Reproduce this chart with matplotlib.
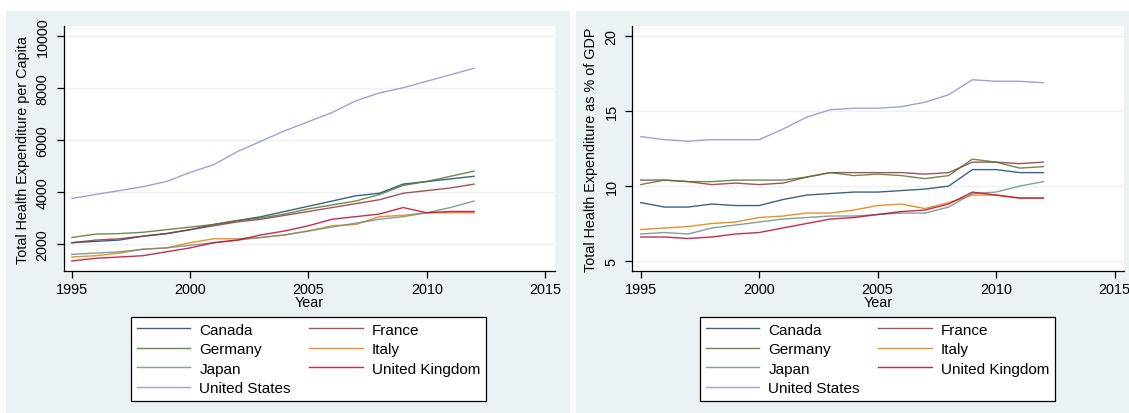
import matplotlib
matplotlib.use("Agg")
import matplotlib.pyplot as plt
from matplotlib.patches import Rectangle

plt.rcParams['font.family'] = ['Liberation Sans', 'DejaVu Sans']

years = list(range(1995, 2013))
countries = ['Canada', 'France', 'Germany', 'Italy', 'Japan', 'United Kingdom', 'United States']
colors = ['#1a476f', '#90353b', '#55752f', '#e37e00', '#6e8e84', '#c10534', '#938dd2']

# per capita spending
pc_canada = [2050, 2100, 2150, 2300, 2400, 2550, 2750, 2900, 3050, 3250, 3450, 3650, 3850, 3950, 4300, 4400, 4500, 4600]
pc_france = [2050, 2150, 2200, 2300, 2400, 2550, 2700, 2850, 2950, 3100, 3250, 3400, 3550, 3700, 3950, 4050, 4150, 4300]
pc_germany = [2250, 2380, 2400, 2450, 2550, 2650, 2750, 2900, 3000, 3150, 3350, 3500, 3650, 3900, 4250, 4400, 4600, 4800]
pc_italy = [1500, 1550, 1650, 1800, 1850, 2050, 2200, 2200, 2250, 2350, 2500, 2700, 2750, 3050, 3100, 3200, 3200, 3200]
pc_japan = [1600, 1650, 1700, 1800, 1850, 1950, 2050, 2150, 2250, 2350, 2500, 2650, 2800, 2950, 3050, 3200, 3400, 3650]
pc_uk = [1350, 1450, 1500, 1550, 1700, 1850, 2050, 2150, 2350, 2500, 2700, 2950, 3050, 3150, 3400, 3200, 3250, 3250]
pc_us = [3750, 3900, 4050, 4200, 4400, 4750, 5050, 5550, 5950, 6350, 6700, 7050, 7500, 7800, 8000, 8250, 8500, 8750]

# share of GDP
gdp_canada = [8.9, 8.6, 8.6, 8.8, 8.7, 8.7, 9.1, 9.4, 9.5, 9.6, 9.6, 9.7, 9.8, 10.0, 11.1, 11.1, 10.9, 10.9]
gdp_france = [10.4, 10.4, 10.3, 10.1, 10.2, 10.1, 10.2, 10.6, 10.9, 10.9, 10.9, 10.9, 10.8, 10.9, 11.6, 11.6, 11.5, 11.6]
gdp_germany = [10.1, 10.4, 10.3, 10.3, 10.4, 10.4, 10.4, 10.6, 10.9, 10.7, 10.8, 10.7, 10.5, 10.7, 11.8, 11.6, 11.2, 11.3]
gdp_italy = [7.1, 7.2, 7.3, 7.5, 7.6, 7.9, 8.0, 8.2, 8.2, 8.4, 8.7, 8.8, 8.5, 8.9, 9.4, 9.4, 9.2, 9.2]
gdp_japan = [6.8, 6.9, 6.8, 7.2, 7.4, 7.6, 7.8, 7.9, 8.0, 8.0, 8.1, 8.2, 8.2, 8.6, 9.5, 9.6, 10.0, 10.3]
gdp_uk = [6.6, 6.6, 6.5, 6.6, 6.8, 6.9, 7.2, 7.5, 7.8, 7.9, 8.1, 8.3, 8.4, 8.8, 9.6, 9.4, 9.2, 9.2]
gdp_us = [13.3, 13.1, 13.0, 13.1, 13.1, 13.1, 13.8, 14.6, 15.1, 15.2, 15.2, 15.3, 15.6, 16.1, 17.1, 17.0, 17.0, 16.9]

per_capita = [pc_canada, pc_france, pc_germany, pc_italy, pc_japan, pc_uk, pc_us]
pct_gdp = [gdp_canada, gdp_france, gdp_germany, gdp_italy, gdp_japan, gdp_uk, gdp_us]

W, H = 1129, 414
bg = '#eaf2f3'
fig = plt.figure(figsize=(W / 100, H / 100), dpi=100)

# panel backgrounds (stata graph region)
fig.patches.append(Rectangle((6 / W, 0), (570 - 6) / W, (H - 12) / H, transform=fig.transFigure,
                             facecolor=bg, edgecolor='none', zorder=-5))
fig.patches.append(Rectangle((576 / W, 0), (W - 576) / W, (H - 12) / H, transform=fig.transFigure,
                             facecolor=bg, edgecolor='none', zorder=-5))


def make_panel(x0, x1, series, ylim, yticks, ylabel, leg_x0, leg_x1):
    ax = fig.add_axes([x0 / W, (H - 272) / H, (x1 - x0) / W, (272 - 27.3) / H])
    ax.set_facecolor('white')
    for vals, c, name in zip(series, colors, countries):
        ax.plot(years, vals, color=c, lw=1.0, alpha=0.85, label=name)
    ax.set_xlim(1994.65, 2015.4)
    ax.set_ylim(*ylim)
    ax.set_xticks([1995, 2000, 2005, 2010, 2015])
    ax.set_yticks(yticks)
    for t in yticks:
        ax.axhline(t, color=bg, lw=1.0, zorder=0)
    for s in ['top', 'right']:
        ax.spines[s].set_visible(False)
    for s in ['left', 'bottom']:
        ax.spines[s].set_linewidth(0.9)
    ax.tick_params(direction='out', length=5, width=0.9, labelsize=10.4, pad=3)
    ax.tick_params(axis='y', pad=5)
    for lab in ax.get_yticklabels():
        lab.set_rotation(90)
        lab.set_va('center')
    ax.set_ylabel(ylabel, fontsize=10.4)
    ax.yaxis.set_label_coords(-0.069, 0.5)
    ax.set_xlabel('Year', fontsize=10.4)
    ax.xaxis.set_label_coords(0.5, -0.097)

    handles, labels = ax.get_legend_handles_labels()
    # column-major order to get Canada/France, Germany/Italy... rows
    order = [0, 2, 4, 6, 1, 3, 5]
    leg = fig.legend([handles[i] for i in order], [labels[i] for i in order], ncol=2,
                     loc='center', bbox_to_anchor=((leg_x0 + leg_x1) / 2 / W, (H - 360) / H),
                     fontsize=11, frameon=True, fancybox=False, handlelength=3.5,
                     handletextpad=0.6, columnspacing=1.2, labelspacing=0.36, borderpad=0.35,
                     borderaxespad=0, framealpha=1, facecolor='white')
    leg.get_frame().set_edgecolor('black')
    leg.get_frame().set_linewidth(0.9)
    return ax


make_panel(63.6, 554.5, per_capita, (963, 10361), [2000, 4000, 6000, 8000, 10000],
           'Total Health Expenditure per Capita', 134, 483)
make_panel(632.4, 1124, pct_gdp, (4.33, 20.67), [5, 10, 15, 20],
           'Total Health Expenditure as % of GDP', 703, 1052)

fig.savefig('out.png', dpi=100)
